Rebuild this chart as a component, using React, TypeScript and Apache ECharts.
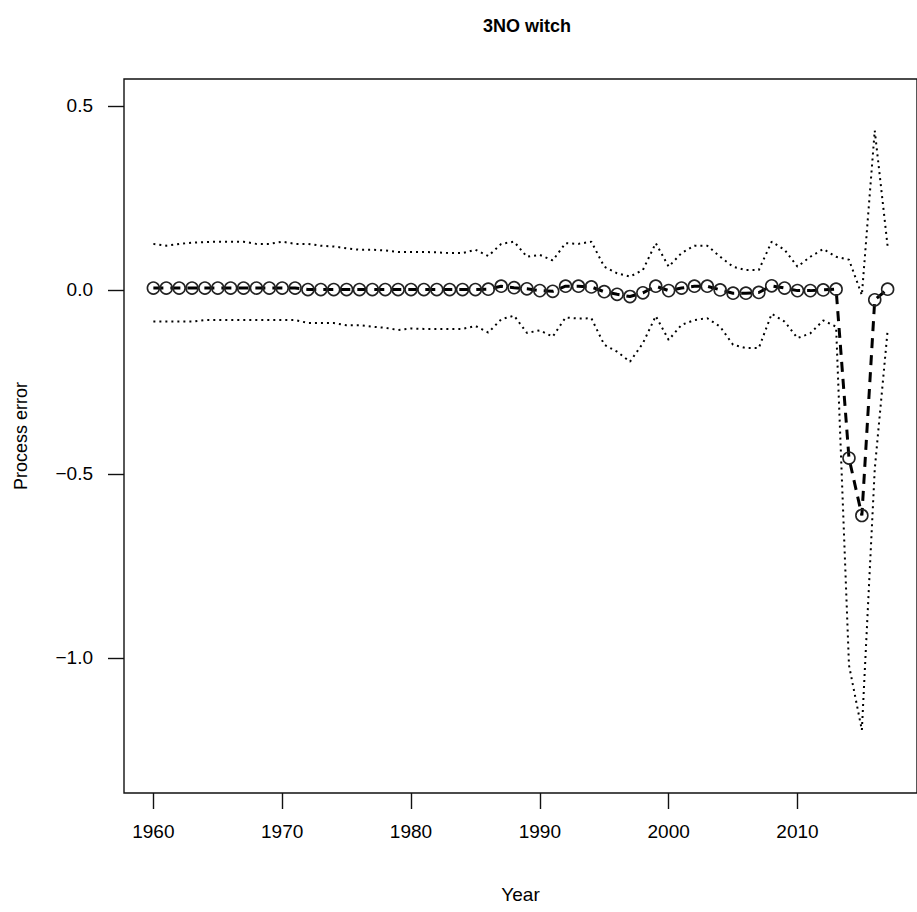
import React, { useEffect, useRef } from "react";
import * as echarts from "echarts";

const years: number[] = [];
for (let y = 1960; y <= 2017; y++) years.push(y);

const estimate: number[] = [
  0.005, 0.005, 0.005, 0.005, 0.005, 0.005, 0.005, 0.005, 0.005, 0.005,
  0.005, 0.005, 0.001, 0.001, 0.001, 0.001, 0.001, 0.001, 0.001, 0.001,
  0.001, 0.001, 0.001, 0.001, 0.001, 0.001, 0.002, 0.01, 0.006, 0.003,
  -0.002, -0.004, 0.01, 0.01, 0.008, -0.005, -0.012, -0.018, -0.008, 0.01,
  -0.002, 0.005, 0.01, 0.01, 0.0, -0.009, -0.009, -0.007, 0.011, 0.005,
  -0.002, -0.002, 0.0, 0.002, -0.457, -0.613, -0.027, 0.002,
];

const upper: number[] = [
  0.125, 0.12, 0.125, 0.128, 0.13, 0.131, 0.131, 0.131, 0.125, 0.125,
  0.131, 0.125, 0.125, 0.12, 0.118, 0.113, 0.109, 0.109, 0.107, 0.103,
  0.103, 0.103, 0.102, 0.1, 0.1, 0.109, 0.092, 0.125, 0.131, 0.09,
  0.095, 0.08, 0.127, 0.125, 0.131, 0.063, 0.045, 0.036, 0.054, 0.127,
  0.063, 0.1, 0.12, 0.12, 0.09, 0.063, 0.054, 0.054, 0.131, 0.109,
  0.063, 0.09, 0.111, 0.09, 0.082, -0.014, 0.433, 0.118,
];

const lower: number[] = [
  -0.086, -0.086, -0.086, -0.086, -0.082, -0.082, -0.082, -0.082, -0.082, -0.082,
  -0.082, -0.082, -0.09, -0.09, -0.09, -0.096, -0.096, -0.1, -0.103, -0.109,
  -0.105, -0.106, -0.106, -0.106, -0.106, -0.098, -0.116, -0.08, -0.07, -0.117,
  -0.11, -0.127, -0.075, -0.078, -0.077, -0.149, -0.168, -0.195, -0.145, -0.071,
  -0.136, -0.095, -0.082, -0.077, -0.1, -0.149, -0.158, -0.158, -0.065, -0.086,
  -0.131, -0.118, -0.083, -0.1, -1.02, -1.196, -0.487, -0.11,
];

const xTicks = [1960, 1970, 1980, 1990, 2000, 2010];
const yTicks = [-1.0, -0.5, 0.0, 0.5];

const FONT = "Liberation Sans, Arial, sans-serif";

export default function App() {
  const ref = useRef<HTMLDivElement>(null);
  useEffect(() => {
    if (!ref.current) return;
    const chart = echarts.init(ref.current, null, { renderer: "svg" });
    const pair = (arr: number[]) => years.map((y, i) => [y, arr[i]]);
    chart.setOption({
      animation: false,
      backgroundColor: "#ffffff",
      title: {
        text: "3NO witch",
        left: 522,
        top: 12,
        textAlign: "center",
        textStyle: { fontFamily: FONT, fontWeight: "bold", fontSize: 18, color: "#000" },
      },
      grid: {
        left: 124,
        top: 79,
        width: 802,
        height: 714,
        show: true,
        borderColor: "#111",
        borderWidth: 1.4,
        backgroundColor: "transparent",
      },
      xAxis: {
        type: "value",
        min: 1957.72,
        max: 2019.28,
        name: "Year",
        nameLocation: "middle",
        nameGap: 92,
        nameTextStyle: { fontFamily: FONT, fontSize: 19, color: "#000" },
        axisLine: { show: false, onZero: false },
        splitLine: { show: false },
        axisTick: {
          show: true,
          inside: false,
          length: 16,
          customValues: xTicks,
          lineStyle: { color: "#111", width: 1.4 },
        },
        axisLabel: {
          customValues: xTicks,
          margin: 29,
          fontFamily: FONT,
          fontSize: 19,
          color: "#000",
          formatter: (v: number) => String(v),
        },
      },
      yAxis: {
        type: "value",
        min: -1.367,
        max: 0.573,
        name: "Process error",
        nameLocation: "middle",
        nameGap: 94,
        nameTextStyle: { fontFamily: FONT, fontSize: 18, color: "#000" },
        axisLine: { show: false, onZero: false },
        splitLine: { show: false },
        axisTick: {
          show: true,
          length: 16,
          customValues: yTicks,
          lineStyle: { color: "#111", width: 1.4 },
        },
        axisLabel: {
          customValues: yTicks,
          margin: 31,
          fontFamily: FONT,
          fontSize: 19,
          color: "#000",
          formatter: (v: number) =>
            v < 0 ? "\u2212" + Math.abs(v).toFixed(1) : v.toFixed(1),
        },
      },
      series: [
        {
          type: "line",
          data: pair(upper),
          symbol: "none",
          lineStyle: { color: "#000", width: 2, type: [2, 4], cap: "butt" },
          z: 2,
        },
        {
          type: "line",
          data: pair(lower),
          symbol: "none",
          lineStyle: { color: "#000", width: 2, type: [2, 4], cap: "butt" },
          z: 2,
        },
        {
          type: "line",
          data: pair(estimate),
          symbol: "circle",
          symbolSize: 12,
          showAllSymbol: true,
          lineStyle: { color: "#000", width: 3, type: [10, 7], cap: "butt" },
          itemStyle: { color: "rgba(0,0,0,0)", borderColor: "#222", borderWidth: 1.6 },
          z: 3,
        },
      ],
    });
    return () => chart.dispose();
  }, []);
  return (
    <div
      ref={ref}
      style={{ position: "fixed", left: 0, top: 0, width: 917, height: 912, background: "#fff" }}
    />
  );
}
